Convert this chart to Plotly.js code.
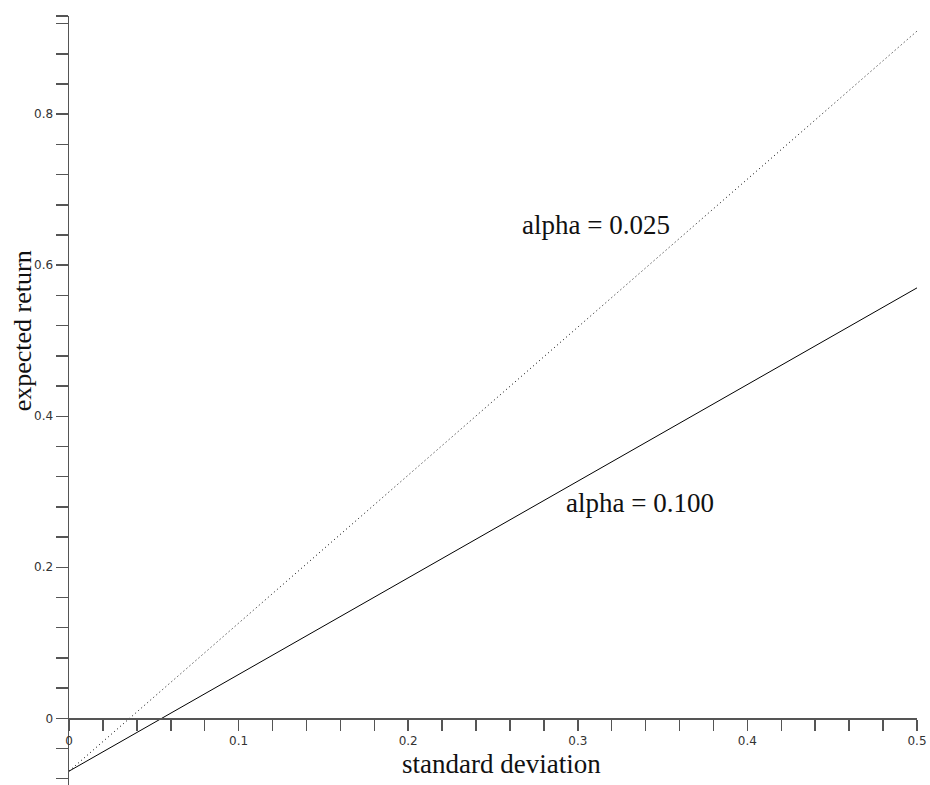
<!DOCTYPE html>
<html>
<head>
<meta charset="utf-8">
<script src="https://cdn.plot.ly/plotly-3.0.1.min.js"></script>
<style>html,body{margin:0;padding:0;background:#fff;}#chart{width:930px;height:785px;}</style>
</head>
<body>
<div id="chart"></div>
<script>
// Data
var sigma = [0, 0.5];
var retAlpha100 = [-0.07, 0.57];
var retAlpha025 = [-0.07, 0.91];

var xRange = [0, 0.5];
var yRange = [-0.0883, 0.930];

var xTickVals = [0, 0.02, 0.04, 0.06, 0.08, 0.1, 0.12, 0.14, 0.16, 0.18, 0.2, 0.22, 0.24, 0.26, 0.28, 0.3, 0.32, 0.34, 0.36, 0.38, 0.4, 0.42, 0.44, 0.46, 0.48, 0.5];
var xTickText = ["0", "", "", "", "", "0.1", "", "", "", "", "0.2", "", "", "", "", "0.3", "", "", "", "", "0.4", "", "", "", "", "0.5"];
var yTickVals = [-0.08, -0.04, 0, 0.04, 0.08, 0.12, 0.16, 0.2, 0.24, 0.28, 0.32, 0.36, 0.4, 0.44, 0.48, 0.52, 0.56, 0.6, 0.64, 0.68, 0.72, 0.76, 0.8, 0.84, 0.88, 0.92, 0.93];
var yTickText = ["", "", "0", "", "", "", "", "0.2", "", "", "", "", "0.4", "", "", "", "", "0.6", "", "", "", "", "0.8", "", "", "", ""];

var labelText = ["alpha = 0.025", "alpha = 0.100"];
var labelX = [0.266, 0.292];
var labelY = [0.653, 0.285];

var serif = "Liberation Serif, Times New Roman, serif";
var tickFont = {family: "DejaVu Sans, sans-serif", size: 12, color: "#333"};

var traces = [
  {x: sigma, y: retAlpha025, mode: "lines", line: {color: "#000", width: 1, dash: "1px,3px"}, hoverinfo: "skip"},
  {x: sigma, y: retAlpha100, mode: "lines", line: {color: "#000", width: 1}, hoverinfo: "skip"}
];

var xPos = (0 - yRange[0]) / (yRange[1] - yRange[0]);

var annotations = [];
for (var i = 0; i < labelText.length; i++) {
  annotations.push({x: labelX[i], y: labelY[i], xref: "x", yref: "y", text: labelText[i], showarrow: false,
    xanchor: "left", yanchor: "middle", font: {family: serif, size: 27, color: "#111"}});
}
annotations.push({x: 0.5106, y: 0.0273, xref: "paper", yref: "paper", text: "standard deviation", showarrow: false,
  xanchor: "center", yanchor: "middle", height: 26, font: {family: serif, size: 27, color: "#111"}});
annotations.push({x: -0.0554, y: 0.590, xref: "paper", yref: "paper", text: "expected return", showarrow: false,
  textangle: -90, xanchor: "center", yanchor: "middle", font: {family: serif, size: 26, color: "#111"}});

var layout = {
  width: 930, height: 785,
  margin: {l: 69, r: 13, t: 16, b: 0, pad: 0},
  paper_bgcolor: "#fff", plot_bgcolor: "#fff",
  showlegend: false,
  xaxis: {range: xRange, anchor: "free", position: xPos, showgrid: false, zeroline: false,
    showline: true, linecolor: "#555", linewidth: 1.5,
    ticks: "outside", ticklen: 11, tickcolor: "#555", tickwidth: 1.5,
    tickmode: "array", tickvals: xTickVals, ticktext: xTickText, tickfont: tickFont},
  yaxis: {range: yRange, showgrid: false, zeroline: false,
    showline: true, linecolor: "#555", linewidth: 1.5,
    ticks: "outside", ticklen: 12, tickcolor: "#555", tickwidth: 1.5,
    tickmode: "array", tickvals: yTickVals, ticktext: yTickText, tickfont: tickFont},
  annotations: annotations
};

Plotly.newPlot("chart", traces, layout, {staticPlot: true, displayModeBar: false});
</script>
</body>
</html>
